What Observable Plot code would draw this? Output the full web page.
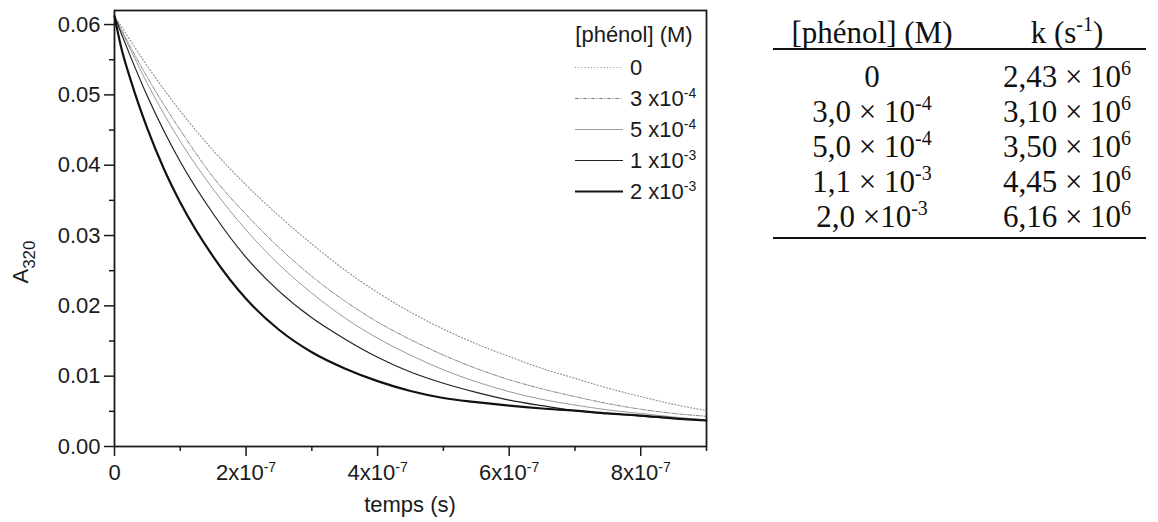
<!DOCTYPE html>
<html><head><meta charset="utf-8">
<script src="https://cdn.jsdelivr.net/npm/d3@7"></script>
<script src="https://cdn.jsdelivr.net/npm/@observablehq/plot@0.6"></script>
<style>
html,body{margin:0;padding:0;background:#fff;}
#wrap{position:relative;width:1158px;height:522px;overflow:hidden;background:#fff;}
#chart{position:absolute;left:0;top:0;}
#table{position:absolute;left:0;top:0;}
</style></head><body>
<div id="wrap"><div id="chart"></div><svg id="table" width="1158" height="260"></svg></div>
<script>
// time (s)
const times = [0, 1e-8, 2.5e-8, 5e-8, 7.5e-8, 1e-7, 1.5e-7, 2e-7, 2.5e-7, 3e-7, 3.5e-7, 4e-7, 4.5e-7, 5e-7, 5.5e-7, 6e-7, 6.5e-7, 7e-7, 7.5e-7, 8e-7, 8.5e-7, 9e-7];
// A320 for each phenol concentration
const a_0    = [0.0612, 0.0598, 0.0576, 0.0541, 0.0508, 0.0477, 0.0421, 0.0372, 0.0328, 0.0288, 0.0251, 0.0219, 0.0191, 0.0167, 0.0146, 0.0128, 0.0111, 0.0097, 0.0083, 0.0071, 0.0060, 0.0051];
const a_3e4  = [0.0612, 0.0594, 0.0567, 0.0525, 0.0486, 0.0450, 0.0383, 0.0330, 0.0283, 0.0242, 0.0207, 0.0177, 0.0152, 0.0130, 0.0111, 0.0095, 0.0082, 0.0071, 0.0061, 0.0053, 0.0047, 0.0043];
const a_5e4  = [0.0612, 0.0592, 0.0563, 0.0516, 0.0473, 0.0434, 0.0366, 0.0308, 0.0259, 0.0218, 0.0183, 0.0154, 0.0130, 0.0109, 0.0092, 0.0078, 0.0067, 0.0059, 0.0052, 0.0047, 0.0042, 0.0038];
const a_1e3  = [0.0612, 0.0588, 0.0553, 0.0498, 0.0449, 0.0405, 0.0331, 0.0269, 0.0221, 0.0183, 0.0153, 0.0127, 0.0106, 0.0090, 0.0077, 0.0066, 0.0058, 0.0051, 0.0047, 0.0043, 0.0040, 0.0037];
const a_2e3  = [0.0612, 0.0568, 0.0520, 0.0452, 0.0395, 0.0347, 0.0270, 0.0210, 0.0166, 0.0134, 0.0111, 0.0093, 0.0079, 0.0069, 0.0063, 0.0058, 0.0054, 0.0051, 0.0047, 0.0044, 0.0040, 0.0037];

const legendBase = ["0", "3 x10", "5 x10", "1 x10", "2 x10"];
const legendExp  = [null, "-4", "-4", "-3", "-3"];
const legendTitle = "[phénol] (M)";

const xTicks = [0, 2e-7, 4e-7, 6e-7, 8e-7];
const xMinor = [1e-7, 3e-7, 5e-7, 7e-7, 9e-7];
const yTicks = [0, 0.01, 0.02, 0.03, 0.04, 0.05, 0.06];
const yMinor = [0.005, 0.015, 0.025, 0.035, 0.045, 0.055];
const xLabel = "temps (s)";
const yLabelBase = "A", yLabelSub = "320";

// table
const tabHead1 = "[phénol] (M)";
const tabHead2Base = "k (s", tabHead2Exp = "-1", tabHead2End = ")";
const concBase = ["0", "3,0 × 10", "5,0 × 10", "1,1 × 10", "2,0 ×10"];
const concExp  = [null, "-4", "-4", "-3", "-3"];
const kBase = ["2,43 × 10", "3,10 × 10", "3,50 × 10", "4,45 × 10", "6,16 × 10"];
const kExp  = ["6", "6", "6", "6", "6"];

const series = [
  {v: a_0,   stroke: "#8a8a8a", w: 1.1, dash: "1 2.2"},
  {v: a_3e4, stroke: "#858585", w: 1.0, dash: "4 1.5 1 1.5"},
  {v: a_5e4, stroke: "#9a9a9a", w: 1.0, dash: null},
  {v: a_1e3, stroke: "#222222", w: 1.2, dash: null},
  {v: a_2e3, stroke: "#111111", w: 2.2, dash: null}
];

const fmtX = d => d === 0 ? "0" : `${Math.round(d / 1e-7)}x10^-7`;

const chart = Plot.plot({
  width: 740, height: 522,
  marginLeft: 114, marginRight: 34, marginTop: 10, marginBottom: 76,
  style: {fontFamily: "'Liberation Sans', Arial, sans-serif", fontSize: "22px", color: "#1a1a1a", background: "#fff"},
  x: {domain: [0, 9e-7]},
  y: {domain: [0, 0.062]},
  marks: [
    ...series.map(s => Plot.line(s.v, {x: (d, i) => times[i], y: d => d, stroke: s.stroke, strokeWidth: s.w, strokeDasharray: s.dash, curve: "monotone-x"})),
    Plot.frame({stroke: "#1a1a1a", strokeWidth: 1.8}),
    Plot.axisX({ticks: xTicks, tickSize: 10, tickPadding: 8, tickFormat: fmtX, label: null, strokeWidth: 1.5}),
    Plot.axisX({ticks: xMinor, tickSize: 5, tickFormat: () => "", label: null, strokeWidth: 1.5}),
    Plot.axisY({ticks: yTicks, tickSize: 10, tickPadding: 4, tickFormat: d3.format(".2f"), label: null, strokeWidth: 1.5}),
    Plot.axisY({ticks: yMinor, tickSize: 5, tickFormat: () => "", label: null, strokeWidth: 1.5})
  ]
});
document.getElementById("chart").appendChild(chart);

const svg = d3.select(chart);
// remove empty minor labels
svg.selectAll("text").filter(function() { return this.textContent === ""; }).remove();
// superscripts on x tick labels
svg.selectAll('g[aria-label="x-axis tick label"] text').each(function() {
  const s = this.textContent;
  if (!s.includes("^")) return;
  const [b, e] = s.split("^");
  const t = d3.select(this); t.text("");
  t.append("tspan").text(b);
  t.append("tspan").attr("dy", "-8").attr("font-size", "14px").text(e);
});
// axis labels
svg.append("text").attr("x", 410).attr("y", 512).attr("text-anchor", "middle").attr("fill", "#1a1a1a").text(xLabel);
const yl = svg.append("text").attr("transform", "translate(28,262) rotate(-90)").attr("text-anchor", "middle").attr("fill", "#1a1a1a");
yl.append("tspan").text(yLabelBase);
yl.append("tspan").attr("dy", "7").attr("font-size", "17px").text(yLabelSub);

// legend
const lg = svg.append("g").attr("fill", "#1a1a1a");
lg.append("text").attr("x", 634).attr("y", 42).attr("text-anchor", "middle").text(legendTitle);
series.forEach((s, i) => {
  const cy = 67.5 + i * 31;
  lg.append("line").attr("x1", 575).attr("x2", 623).attr("y1", cy).attr("y2", cy)
    .attr("stroke", s.stroke).attr("stroke-width", s.w).attr("stroke-dasharray", s.dash);
  const t = lg.append("text").attr("x", 630).attr("y", cy + 7.5).attr("text-anchor", "start");
  t.append("tspan").text(legendBase[i]);
  if (legendExp[i]) t.append("tspan").attr("dy", "-8").attr("font-size", "14px").text(legendExp[i]);
});

// table
const tb = d3.select("#table").append("g").attr("font-family", "'Liberation Serif', 'Times New Roman', serif").attr("font-size", "31px").attr("fill", "#111");
const c1 = 872, c2 = 1067;
tb.append("text").attr("x", c1).attr("y", 43).attr("text-anchor", "middle").text(tabHead1);
const h2 = tb.append("text").attr("x", c2).attr("y", 43).attr("text-anchor", "middle");
h2.append("tspan").text(tabHead2Base);
h2.append("tspan").attr("dy", "-12").attr("font-size", "20px").text(tabHead2Exp);
h2.append("tspan").attr("dy", "12").text(tabHead2End);
tb.append("line").attr("x1", 773).attr("x2", 1146).attr("y1", 49).attr("y2", 49).attr("stroke", "#111").attr("stroke-width", 2);
tb.append("line").attr("x1", 773).attr("x2", 1146).attr("y1", 238).attr("y2", 238).attr("stroke", "#111").attr("stroke-width", 2);
concBase.forEach((b, i) => {
  const y = 87 + i * 35;
  const t1 = tb.append("text").attr("x", c1).attr("y", y).attr("text-anchor", "middle");
  t1.append("tspan").text(b);
  if (concExp[i]) t1.append("tspan").attr("dy", "-12").attr("font-size", "20px").text(concExp[i]);
  const t2 = tb.append("text").attr("x", c2).attr("y", y).attr("text-anchor", "middle");
  t2.append("tspan").text(kBase[i]);
  t2.append("tspan").attr("dy", "-12").attr("font-size", "20px").text(kExp[i]);
});
</script>
</body></html>
